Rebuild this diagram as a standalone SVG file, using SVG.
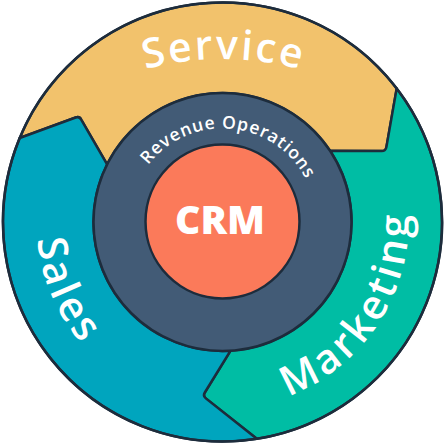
<svg xmlns="http://www.w3.org/2000/svg" xmlns:xlink="http://www.w3.org/1999/xlink" width="445" height="444" viewBox="0 0 445 444">
  <style>
    .seg { stroke: #1d2c3c; stroke-width: 2.5; stroke-linejoin: round; }
    .big { font-family: "Open Sans", "Lato", sans-serif; font-size: 41px; fill: #ffffff; font-weight: 600; }
    .ring { font-family: "Open Sans", "Lato", sans-serif; font-size: 17.5px; fill: #ffffff; font-weight: 600; }
    .crm { font-family: "Open Sans", "Liberation Sans", sans-serif; font-size: 38px; fill: #ffffff; font-weight: 800; }
  </style>
  <defs>
    <path id="p-service" d="M 29.7 129.2 A 300 300 0 0 1 415.3 129.2"/>
    <path id="p-marketing" d="M 178.8 402.8 A 186 186 0 0 0 372.2 111.6"/>
    <path id="p-sales" d="M 50.0 152.3 A 186 186 0 0 0 152.8 394.5"/>
    <path id="p-revops" d="M 130.0 205.7 A 94 94 0 0 1 316.5 222"/>
  </defs>

  <g id="node-service">
    <path class="seg" fill="#f2c26c" d="M 19.7 138.0 A 219.5 219.5 0 0 1 396.7 88.4 L 386.4 147.1 Q 385.7 151.0 381.7 151.0 L 330.1 150.8 A 129 129 0 0 0 107.1 164.4 L 81.2 119.6 Q 79.4 116.1 75.7 117.5 Z"/>
    <text class="big"><textPath xlink:href="#p-service" href="#p-service" startOffset="50%" text-anchor="middle" textLength="156" lengthAdjust="spacing">Service</textPath></text>
  </g>

  <g id="node-marketing">
    <path class="seg" fill="#00bda4" d="M 396.7 88.4 L 386.4 147.1 Q 385.7 151.0 381.7 151.0 L 330.1 150.8 A 129 129 0 0 1 230.4 350.8 L 204.8 392.5 Q 202.7 395.9 205.8 398.4 L 256.8 438.8 A 219.5 219.5 0 0 0 396.7 88.4 Z"/>
    <text class="big"><textPath xlink:href="#p-marketing" href="#p-marketing" startOffset="50%" text-anchor="middle" textLength="232" lengthAdjust="spacing">Marketing</textPath></text>
  </g>

  <g id="node-sales">
    <path class="seg" fill="#00a5be" d="M 256.8 438.8 A 219.5 219.5 0 0 1 19.7 138.0 L 75.7 117.5 Q 79.4 116.1 81.2 119.6 L 107.1 164.4 A 129 129 0 0 0 230.4 350.8 L 204.8 392.5 Q 202.7 395.9 205.8 398.4 Z"/>
    <text class="big"><textPath xlink:href="#p-sales" href="#p-sales" startOffset="50%" text-anchor="middle" textLength="115" lengthAdjust="spacing">Sales</textPath></text>
  </g>

  <g id="outline">
    <circle cx="222.5" cy="222" r="219.5" fill="none" stroke="#1d2c3c" stroke-width="2.5"/>
  </g>

  <g id="node-revops">
    <circle cx="222.5" cy="222" r="129" fill="#425b76" stroke="#1d2c3c" stroke-width="2.5"/>
    <text class="ring"><textPath xlink:href="#p-revops" href="#p-revops" startOffset="50%" text-anchor="middle" textLength="188" lengthAdjust="spacing">Revenue Operations</textPath></text>
  </g>

  <g id="node-crm">
    <circle cx="222.5" cy="221.5" r="77" fill="#fb7a5a" stroke="#1d2c3c" stroke-width="2.5"/>
    <text class="crm" x="220" y="234" text-anchor="middle" textLength="90" lengthAdjust="spacingAndGlyphs">CRM</text>
  </g>
</svg>
